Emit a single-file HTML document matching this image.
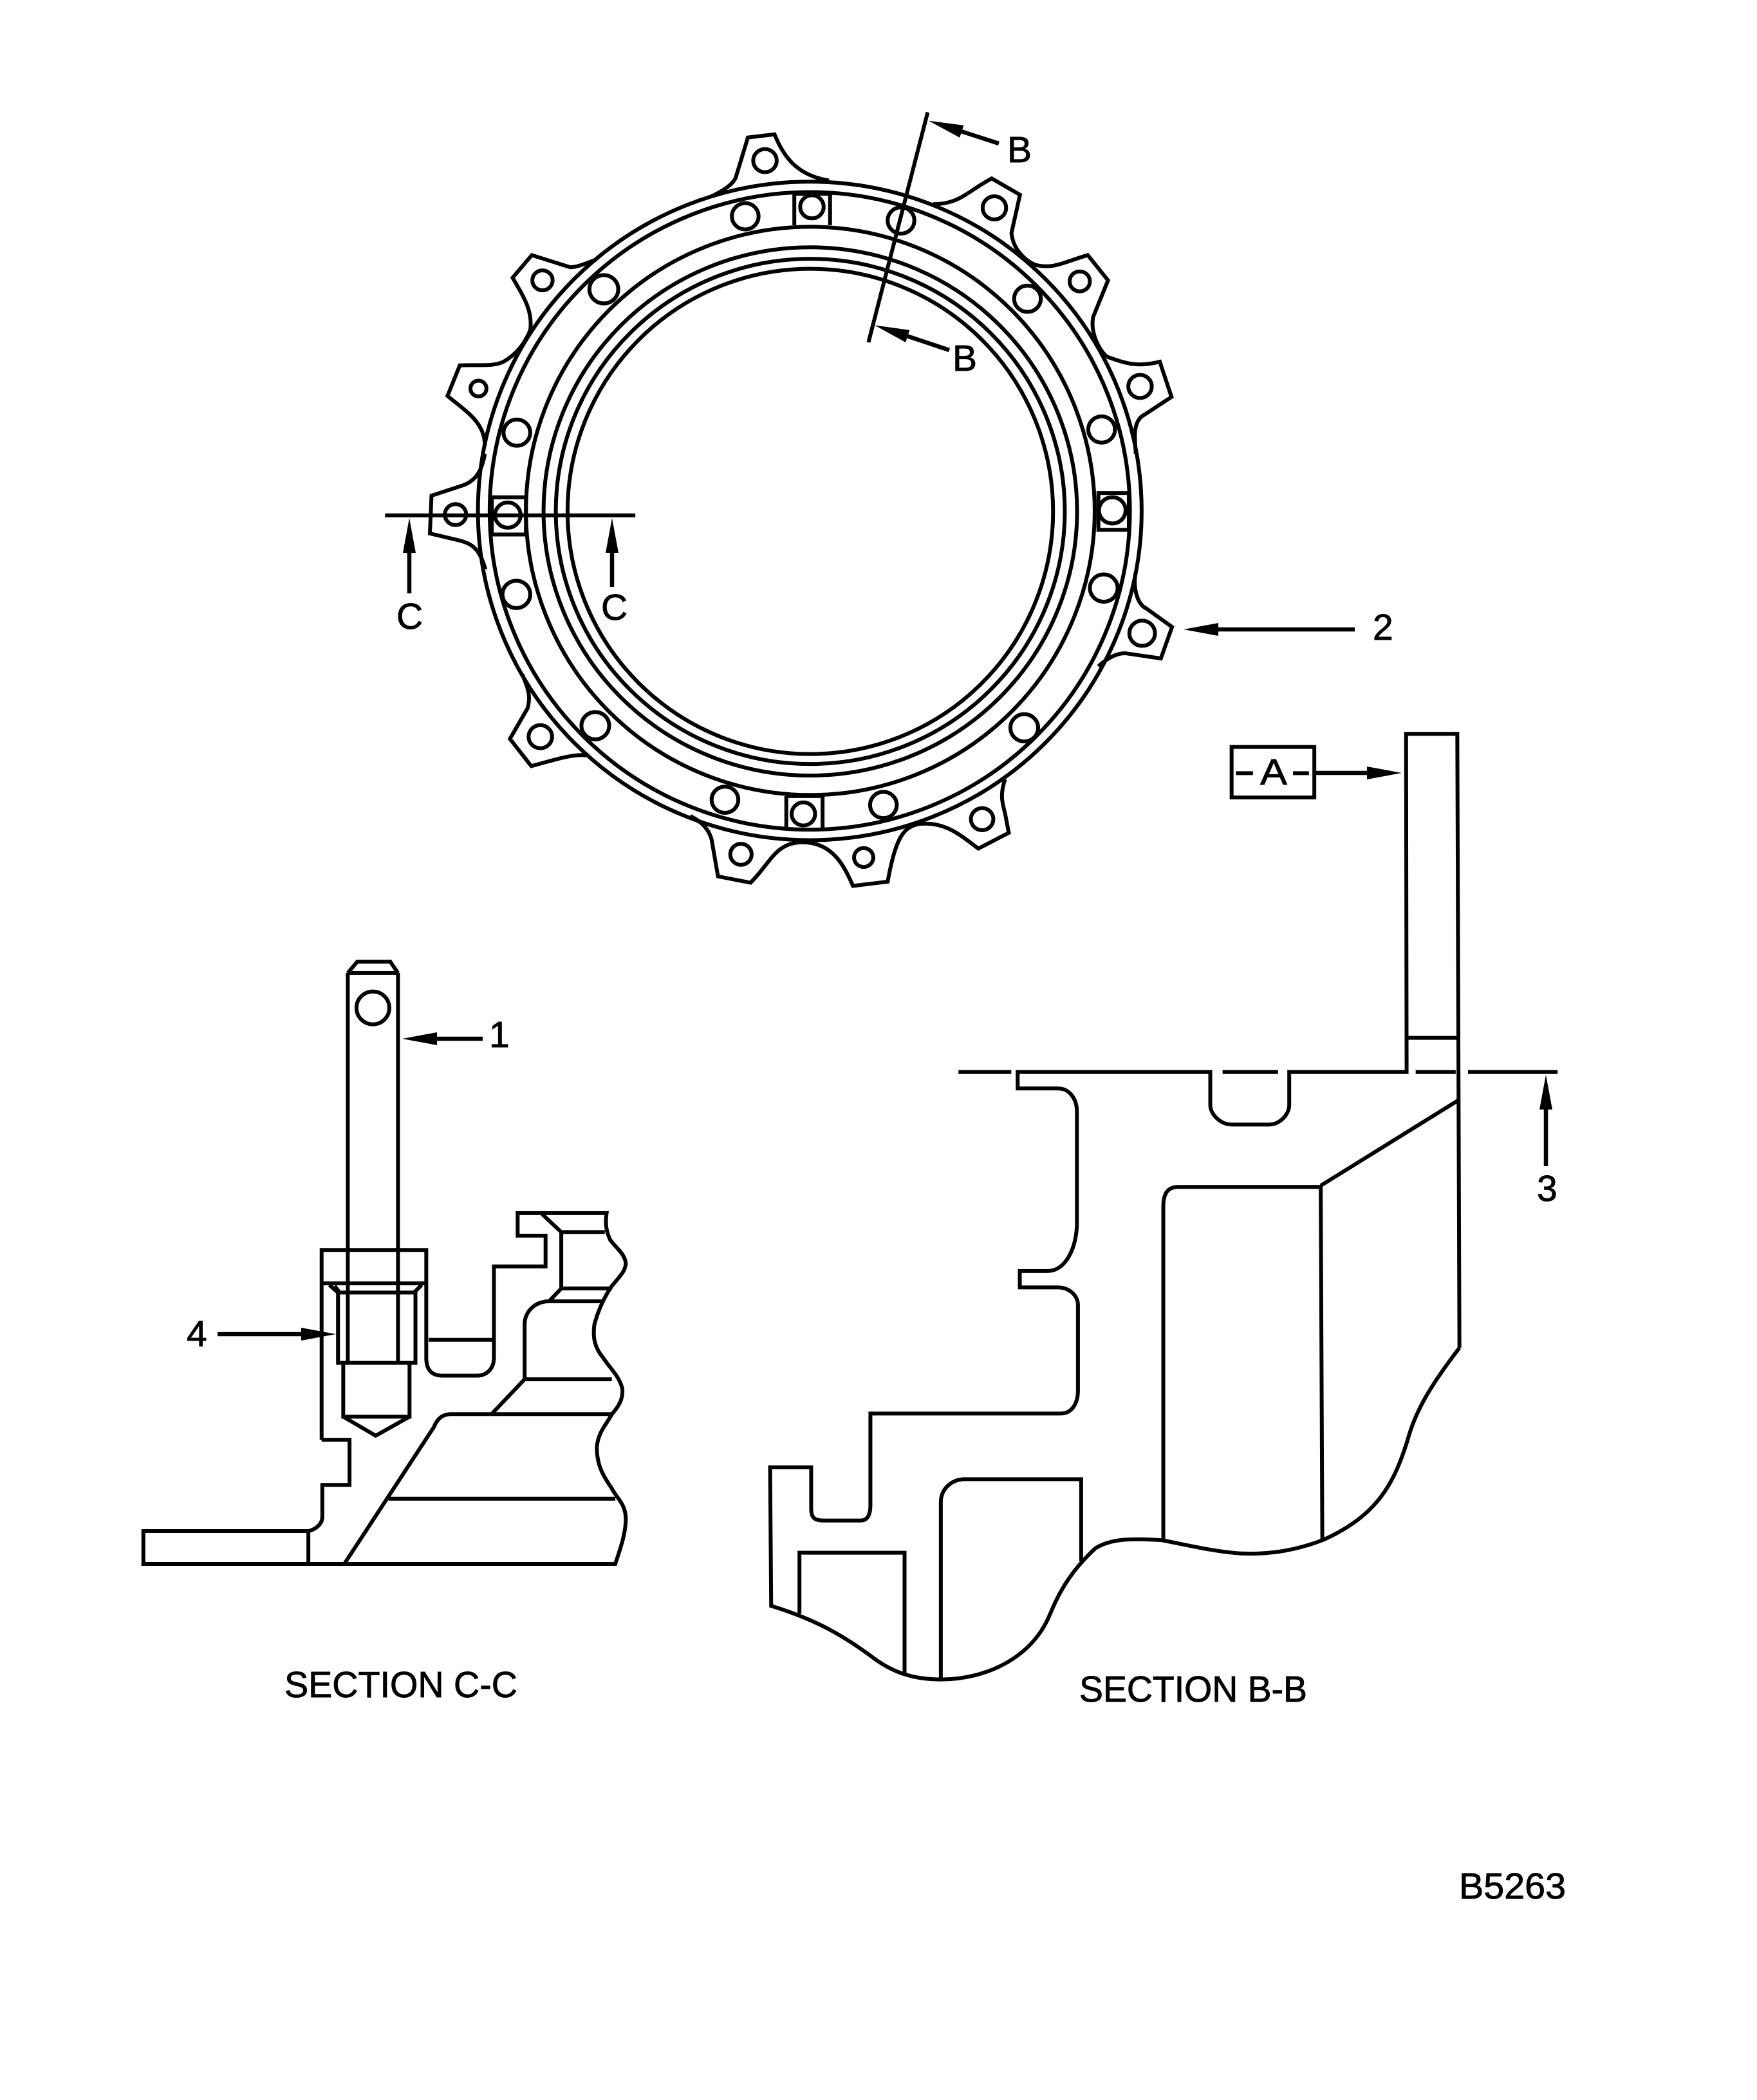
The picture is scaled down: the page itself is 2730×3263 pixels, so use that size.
<!DOCTYPE html>
<html><head><meta charset="utf-8"><style>
html,body{margin:0;padding:0;background:#fff}
svg{display:block}
.l *{fill:none;stroke:#000;stroke-width:6;vector-effect:non-scaling-stroke;stroke-linejoin:miter}
text{font-family:"Liberation Sans",sans-serif;font-size:57px;fill:#000;stroke:#000;stroke-width:.9}
.a{stroke:#000;stroke-width:6.5;fill:none;marker-end:url(#h)}
</style></head><body>
<svg width="2730" height="3263" viewBox="0 0 2730 3263" xmlns="http://www.w3.org/2000/svg">
<defs><marker id="h" markerUnits="userSpaceOnUse" markerWidth="60" markerHeight="24" refX="14" refY="12" orient="auto"><path d="M0 2L54 12L0 22Z" fill="#000"/></marker></defs>
<rect width="2730" height="3263" fill="#fff"/>

<g class="l" transform="translate(600,150) scale(.829,.816)">
<ellipse cx="794" cy="789" rx="622" ry="627"/>
<ellipse cx="794" cy="789" rx="600" ry="607"/>
<ellipse cx="795" cy="789" rx="533" ry="541"/>
<ellipse cx="795" cy="790" rx="500" ry="503"/>
<ellipse cx="795" cy="790" rx="477" ry="481"/>
<ellipse cx="795" cy="790" rx="455" ry="462"/>
<path d="M610 190C640 175 650 165 655 155L678 78L728 72C745 115 770 150 830 160"/>
<path d="M1025 205C1075 205 1090 180 1135 156L1188 187L1172 260C1175 290 1195 310 1215 320"/>
<path d="M1215 320C1250 330 1270 315 1315 302L1353 350L1325 420C1320 450 1335 480 1350 495"/>
<path d="M1350 495C1390 510 1410 515 1450 505L1472 572L1415 610C1400 625 1403 650 1405 680"/>
<path d="M1405 905C1400 930 1405 965 1425 975L1473 1010L1452 1070L1385 1060C1365 1060 1345 1075 1335 1085"/>
<path d="M1160 1300C1150 1330 1155 1345 1160 1365L1167 1402L1110 1432C1080 1410 1050 1380 1000 1385"/>
<path d="M1000 1385C970 1390 955 1410 940 1495L875 1503C860 1470 840 1420 780 1420"/>
<path d="M780 1420C730 1420 720 1460 683 1497L622 1485L610 1415C605 1395 590 1380 570 1370"/>
<path d="M380 1255C350 1250 310 1265 272 1275L232 1223L265 1165C272 1140 265 1125 255 1100"/>
<path d="M186 900C175 860 160 852 140 846L82 832L85 760L145 740C170 730 180 710 185 680"/>
<path d="M185 665C185 620 150 600 115 570L138 512C170 510 200 515 220 505C245 490 260 470 270 445"/>
<path d="M270 445C275 410 260 385 237 345L273 302L345 325C360 325 380 315 395 310"/>
<ellipse cx="710" cy="122" rx="22" ry="22"/><ellipse cx="1140" cy="212" rx="22" ry="22"/><ellipse cx="1300" cy="352" rx="19" ry="19"/><ellipse cx="1413" cy="552" rx="22" ry="22"/><ellipse cx="1417" cy="1022" rx="24" ry="24"/><ellipse cx="1117" cy="1376" rx="21" ry="21"/><ellipse cx="895" cy="1449" rx="18" ry="18"/><ellipse cx="665" cy="1443" rx="20" ry="20"/><ellipse cx="289" cy="1219" rx="22" ry="22"/><ellipse cx="130" cy="796" rx="20" ry="20"/><ellipse cx="173" cy="556" rx="15" ry="15"/><ellipse cx="293" cy="350" rx="19" ry="19"/>
<ellipse cx="673" cy="228" rx="25" ry="25"/><ellipse cx="965" cy="236" rx="25" ry="25"/><ellipse cx="408" cy="367" rx="27" ry="27"/><ellipse cx="1202" cy="385" rx="25" ry="25"/><ellipse cx="245" cy="640" rx="25" ry="25"/><ellipse cx="1341" cy="634" rx="25" ry="25"/><ellipse cx="244" cy="948" rx="26" ry="26"/><ellipse cx="1345" cy="936" rx="26" ry="26"/><ellipse cx="392" cy="1198" rx="26" ry="26"/><ellipse cx="1196" cy="1202" rx="26" ry="26"/><ellipse cx="635" cy="1339" rx="25" ry="25"/><ellipse cx="932" cy="1349" rx="25" ry="25"/>
<path d="M765 185H832V245M765 185V245"/><ellipse cx="798" cy="210" rx="22" ry="22"/>
<path d="M1335 755H1392V825H1335Z"/><ellipse cx="1361" cy="788" rx="25" ry="25"/>
<path d="M750 1332V1392M818 1332V1392M750 1332H818"/><ellipse cx="782" cy="1366" rx="22" ry="22"/>
<path d="M198 763H262V834H198Z"/><ellipse cx="228" cy="797" rx="24" ry="24"/>
<path d="M1015 30L904 468M-2 797.5H467"/>
</g>
<line class="a" x1="1552" y1="223" x2="1481" y2="200"/>
<line class="a" x1="1475" y1="544" x2="1397" y2="518"/>
<line class="a" x1="636" y1="922" x2="636" y2="845"/>
<line class="a" x1="951" y1="912" x2="951" y2="845"/>
<line class="a" x1="2105" y1="978" x2="1879" y2="978"/>
<text x="1565" y="252">B</text><text x="1480" y="576">B</text>
<text x="616" y="977">C</text><text x="934" y="963">C</text>
<text x="2133" y="994">2</text>

<g class="l" transform="translate(200,1480) scale(.542,.797)">
<path d="M628 40V800M772 40V800M628 40L655 18H750L772 40M628 40H772"/>
<ellipse cx="700" cy="108" rx="47" ry="32"/>
<path d="M553 645H855M553 950H633V1038H555V1100C555 1115 535 1125 515 1128H42V1192H1395C1405 1170 1425 1135 1425 1105C1425 1075 1400 1065 1385 1045C1360 1020 1342 1000 1342 965C1345 935 1370 920 1385 900C1405 885 1418 870 1415 850C1405 825 1385 815 1360 790C1335 770 1330 750 1335 725C1345 700 1360 675 1385 650C1410 630 1425 620 1425 605C1420 585 1395 575 1380 560C1370 545 1365 530 1370 508H1115V552H1195V612H1047V790C1047 815 1020 825 1000 825H900C870 825 853 815 853 790V580H553V950"/>
<path d="M515 1128V1192M860 755H1047"/>
<path d="M600 663H822V800H600ZM575 648L600 663M840 648L818 663M590 650L605 663"/>
<path d="M615 800V905H805V800M615 905L708 942L805 905"/>
<path d="M1040 900L1135 832V725C1135 700 1165 680 1205 680L1240 655V545L1185 510M1240 545H1365M1240 655H1385M1205 680H1360M1135 832H1385"/>
<path d="M618 1192L875 925C885 908 900 900 925 900H1385M745 1065H1395"/>
</g>
<line class="a" x1="750" y1="1614" x2="665" y2="1614"/>
<line class="a" x1="338" y1="2073" x2="482" y2="2073"/>
<text x="760" y="1627">1</text><text x="290" y="2092">4</text>
<text x="442" y="2637" textLength="362" lengthAdjust="spacingAndGlyphs">SECTION C-C</text>

<g class="l" transform="translate(1180,1130) scale(.829,1.0204)">
<path d="M1312 945C1260 1000 1230 1040 1215 1085C1190 1150 1160 1200 1055 1238C1000 1255 950 1260 900 1258C850 1255 800 1245 755 1238C700 1235 660 1235 630 1250C590 1280 565 1310 545 1350C510 1420 420 1450 340 1450C290 1450 250 1440 210 1415C160 1385 110 1360 22 1338L20 1127H97V1190C97 1205 105 1208 120 1208H190C205 1208 208 1195 208 1185V1045H565C585 1045 597 1030 597 1010V880C597 865 580 853 560 853H488V828H540C570 828 592 800 595 760V585C595 565 580 550 560 550H484V525H845V575C845 590 865 605 885 605H955C975 605 993 590 993 575V525H1213L1212 10H1308L1312 945"/>
<path d="M373 525H472M868 525H972M1230 525H1305M1328 525H1496M1215 473H1308M1052 698L1310 568"/>
<path d="M757 1238V730C757 710 765 700 785 700H1052L1055 1238"/>
<path d="M340 1450V1180C340 1160 360 1145 385 1145H603V1270M75 1350V1257H272V1440"/>
<path d="M885 30H1040V107H885ZM893 70H925M1000 70H1030"/>
</g>
<line class="a" x1="2045" y1="1201" x2="2138" y2="1201"/>
<line class="a" x1="2402" y1="1812" x2="2402" y2="1710"/>
<text x="1958" y="1219" textLength="42" lengthAdjust="spacingAndGlyphs">A</text>
<text x="2388" y="1866">3</text>
<text x="1677" y="2644" textLength="354" lengthAdjust="spacingAndGlyphs">SECTION B-B</text>
<text x="2267" y="2950" textLength="166" lengthAdjust="spacingAndGlyphs">B5263</text>
</svg>
</body></html>
